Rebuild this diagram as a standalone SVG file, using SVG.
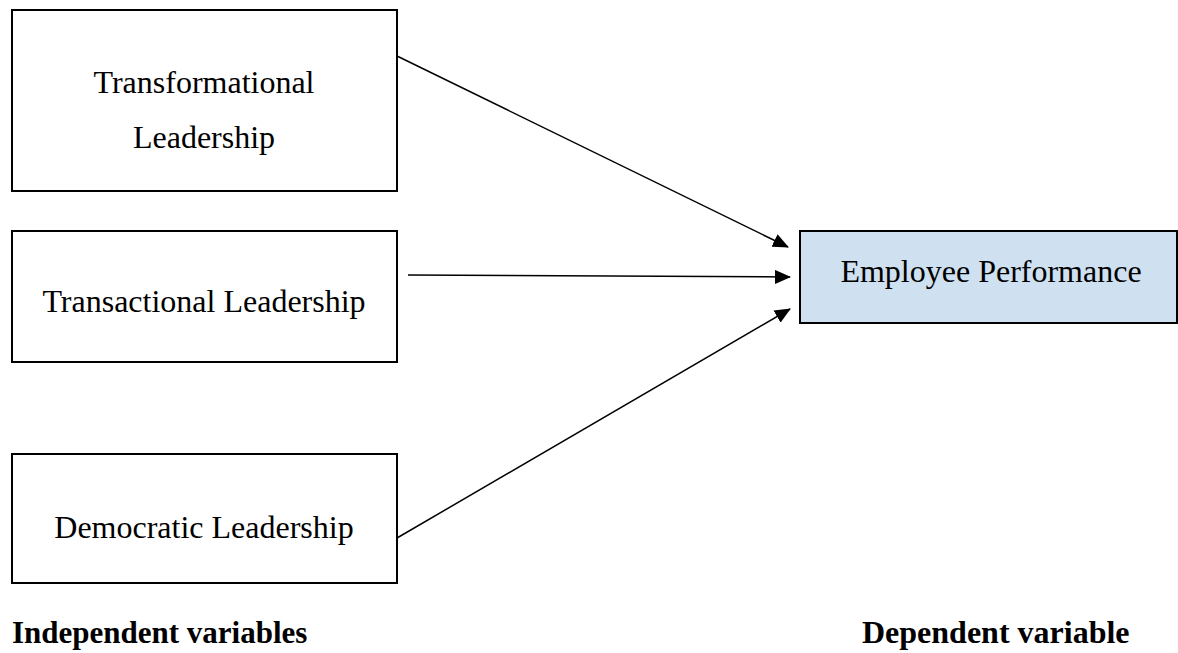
<svg xmlns="http://www.w3.org/2000/svg" width="1178" height="653" viewBox="0 0 1178 653">
<style>
.box{fill:#fff;stroke:#000;stroke-width:2}
.dep{fill:#cfe0f1;stroke:#000;stroke-width:2}
.t{font-family:"Liberation Serif",serif;font-size:32px;fill:#000;text-anchor:middle}
.b{font-family:"Liberation Serif",serif;font-size:31px;font-weight:bold;fill:#000}
.c{stroke:#000;stroke-width:1.5;fill:none;marker-end:url(#ah)}
</style>
<defs>
<marker id="ah" markerWidth="16" markerHeight="14" refX="15" refY="7" orient="auto" markerUnits="userSpaceOnUse">
<path d="M0,0 L16,7 L0,14 Z" fill="#000"/>
</marker>
</defs>
<g id="n1"><rect class="box" x="12" y="10" width="385" height="181"/><text class="t" x="204" y="93">Transformational</text><text class="t" x="204" y="148">Leadership</text></g>
<g id="n2"><rect class="box" x="12" y="231" width="385" height="131"/><text class="t" x="204" y="312">Transactional Leadership</text></g>
<g id="n3"><rect class="box" x="12" y="454" width="385" height="129"/><text class="t" x="204" y="538">Democratic Leadership</text></g>
<g id="n4"><rect class="dep" x="800" y="231" width="377" height="92"/><text class="t" x="991" y="282">Employee Performance</text></g>
<g id="connectors">
<line class="c" x1="397" y1="56" x2="788" y2="247"/>
<line class="c" x1="408" y1="275" x2="790" y2="277"/>
<line class="c" x1="397" y1="538" x2="790" y2="309"/>
</g>
<text class="b" x="12" y="643">Independent variables</text>
<text class="b" x="862" y="643" style="font-size:32px">Dependent variable</text>
</svg>
